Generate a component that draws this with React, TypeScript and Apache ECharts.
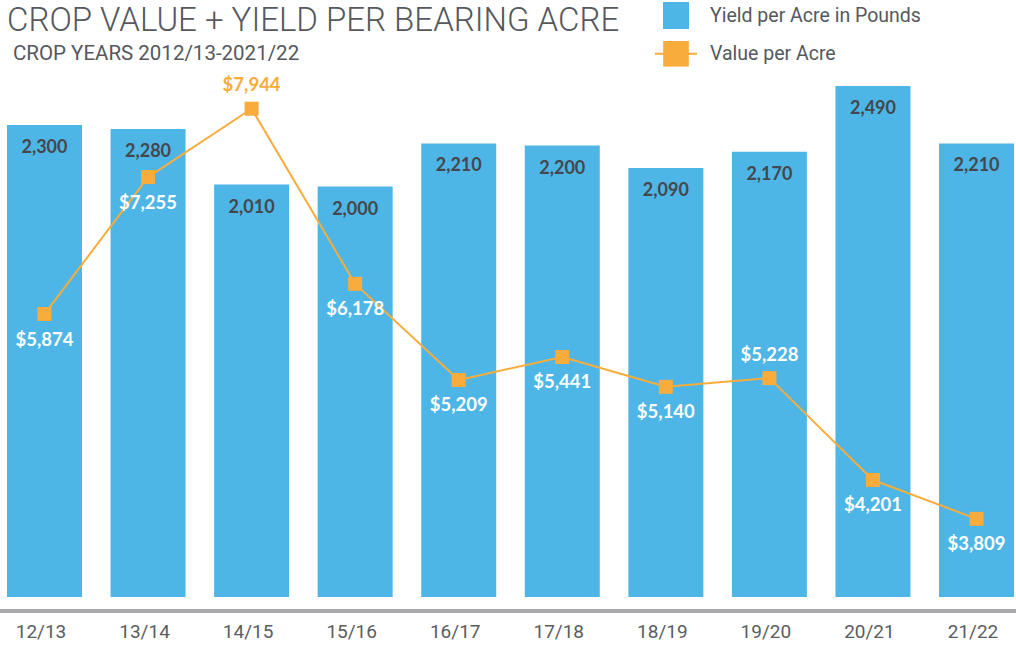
import React, { useEffect, useRef } from "react";
import * as echarts from "echarts";

const categories = ["12/13", "13/14", "14/15", "15/16", "16/17", "17/18", "18/19", "19/20", "20/21", "21/22"];
const yieldPerAcre = [2300, 2280, 2010, 2000, 2210, 2200, 2090, 2170, 2490, 2210];
const valuePerAcre = [5874, 7255, 7944, 6178, 5209, 5441, 5140, 5228, 4201, 3809];
const labelsAbove = ["14/15", "19/20"];
const orangeLabels = ["14/15"];

const BLUE = "#4EB6E6";
const ORANGE = "#F8AC3C";
const FONT = "Roboto, 'Noto Sans', sans-serif";
const LABEL_FONT = "Lato, 'Noto Sans', sans-serif";

export default function App() {
  const ref = useRef<HTMLDivElement>(null);
  useEffect(() => {
    if (!ref.current) return;
    const chart = echarts.init(ref.current, undefined, { renderer: "svg" });
    const lineData = valuePerAcre.map((v, i) => {
      const cat = categories[i];
      const above = labelsAbove.includes(cat);
      return {
        value: v,
        label: {
          position: above ? "top" : "bottom",
          color: orangeLabels.includes(cat) ? ORANGE : "#ffffff",
        },
      };
    });
    chart.setOption({
      animation: false,
      backgroundColor: "#ffffff",
      title: [
        {
          text: "CROP VALUE + YIELD PER BEARING ACRE",
          left: 7,
          top: 3,
          padding: 0,
          textStyle: { fontFamily: FONT, fontWeight: 300, fontSize: 33, color: "#55585d" },
        },
        {
          text: "CROP YEARS 2012/13-2021/22",
          left: 13,
          top: 42,
          padding: 0,
          textStyle: { fontFamily: FONT, fontWeight: 400, fontSize: 20.5, color: "#55585d" },
        },
      ],
      legend: [
        {
          data: ["Yield per Acre in Pounds"],
          left: 663,
          top: 2,
          padding: 0,
          itemWidth: 26,
          itemHeight: 27,
          icon: "rect",
          textStyle: { fontFamily: FONT, fontSize: 19.5, color: "#55585d", padding: [0, 0, 0, 16] },
        },
        {
          data: ["Value per Acre"],
          left: 654,
          top: 41,
          padding: 0,
          itemWidth: 42,
          itemHeight: 32,
          textStyle: { fontFamily: FONT, fontSize: 19.5, color: "#55585d", padding: [0, 0, 0, 8] },
        },
      ],
      grid: {
        left: -7.3,
        right: -12.3,
        top: 86,
        bottom: 64,
        containLabel: false,
        outerBoundsMode: "none",
      },
      xAxis: {
        type: "category",
        data: categories,
        offset: 14,
        axisTick: { show: false },
        axisLine: { onZero: false, lineStyle: { color: "#a8a8ac", width: 4 } },
        axisLabel: {
          fontFamily: FONT,
          fontSize: 19,
          color: "#5a5d62",
          margin: 11,
          padding: [0, 7, 0, 0],
        },
      },
      yAxis: [
        { type: "value", min: 0, max: 2490, show: false, splitLine: { show: false } },
        { type: "value", min: 3021, max: 8173, show: false, splitLine: { show: false } },
      ],
      series: [
        {
          name: "Yield per Acre in Pounds",
          type: "bar",
          data: yieldPerAcre,
          yAxisIndex: 0,
          barWidth: 75,
          itemStyle: { color: BLUE },
          label: {
            show: true,
            position: "insideTop",
            distance: 12,
            fontFamily: LABEL_FONT,
            fontWeight: "bold",
            fontSize: 18,
            color: "#45474c",
            formatter: (p: any) => p.value.toLocaleString("en-US"),
          },
        },
        {
          name: "Value per Acre",
          type: "line",
          data: lineData,
          yAxisIndex: 1,
          symbol: "rect",
          symbolSize: 14,
          lineStyle: { color: ORANGE, width: 2 },
          itemStyle: { color: ORANGE },
          label: {
            show: true,
            distance: 8,
            fontFamily: LABEL_FONT,
            fontWeight: "bold",
            fontSize: 18.5,
            formatter: (p: any) => "$" + p.value.toLocaleString("en-US"),
          },
        },
      ],
    });
    return () => chart.dispose();
  }, []);
  return <div ref={ref} style={{ position: "absolute", left: 0, top: 0, width: 1016, height: 661 }} />;
}
